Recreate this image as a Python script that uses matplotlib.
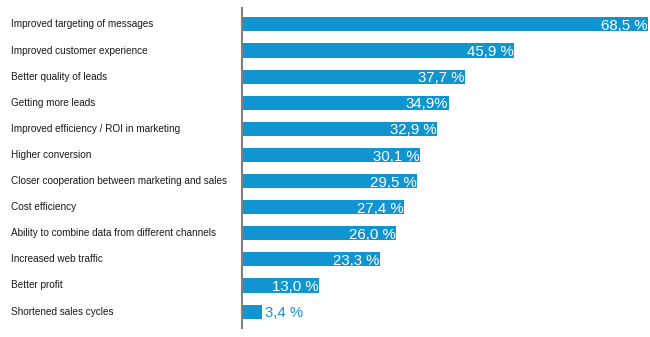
import matplotlib
matplotlib.use("Agg")
import matplotlib.pyplot as plt
import matplotlib.transforms as mtransforms

categories = [
    "Improved targeting of messages",
    "Improved customer experience",
    "Better quality of leads",
    "Getting more leads",
    "Improved efficiency / ROI in marketing",
    "Higher conversion",
    "Closer cooperation between marketing and sales",
    "Cost efficiency",
    "Ability to combine data from different channels",
    "Increased web traffic",
    "Better profit",
    "Shortened sales cycles",
]
values = [68.5, 45.9, 37.7, 34.9, 32.9, 30.1, 29.5, 27.4, 26.0, 23.3, 13.0, 3.4]
value_labels = ["68,5 %", "45,9 %", "37,7 %", "34,9%", "32,9 %", "30,1 %",
                "29,5 %", "27,4 %", "26,0 %", "23,3 %", "13,0 %", "3,4 %"]

BAR_COLOR = "#1195d0"
W, H = 650, 337

plt.rcParams["font.family"] = ["Liberation Sans", "DejaVu Sans"]

fig = plt.figure(figsize=(W / 100, H / 100), dpi=100)
ax = fig.add_axes([242 / W, 9 / H, (W - 242) / W, 320 / H])

pos = list(range(len(categories)))
ax.barh(pos, values, height=0.54, color=BAR_COLOR, edgecolor="none")
ax.set_xlim(0, 68.5 * 408 / 406)
ax.set_ylim(11.63, -0.63)

for s in ["top", "right", "bottom"]:
    ax.spines[s].set_visible(False)
ax.spines["left"].set_color("#808080")
ax.spines["left"].set_linewidth(1.5)
ax.set_xticks([])
ax.set_yticks([])

trans = mtransforms.blended_transform_factory(fig.transFigure, ax.transData)
for i, name in enumerate(categories):
    ax.text(11 / W, i, name, transform=trans, ha="left", va="center",
            fontsize=7.2, color="#1a1a1a")

for i, (v, lab) in enumerate(zip(values, value_labels)):
    if v > 8:
        ax.text(v - 0.1, i + 0.06, lab, ha="right", va="center",
                fontsize=10.8, color="white")
    else:
        ax.text(v + 0.4, i + 0.06, lab, ha="left", va="center",
                fontsize=10.8, color=BAR_COLOR)

fig.savefig("out.png", dpi=100)
